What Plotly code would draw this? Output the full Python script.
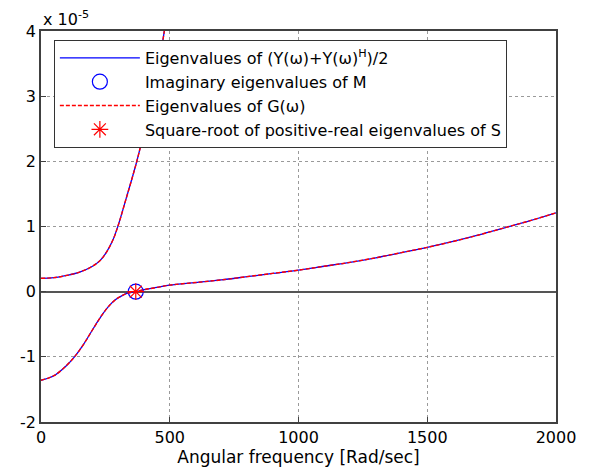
import plotly.graph_objects as go

# Data (eigenvalues in units of 1e-5)
omega_upper = [0, 50, 100, 150, 200, 230, 255, 280, 300, 330, 370, 400, 430, 455, 475, 490]
eig_upper = [0.205, 0.215, 0.25, 0.30, 0.39, 0.48, 0.61, 0.80, 1.02, 1.42, 1.97, 2.45, 2.95, 3.45, 3.9, 4.3]

omega_lower = [0, 50, 100, 130, 160, 190, 215, 240, 265, 290, 315, 340, 368, 400, 450, 500,
               600, 700, 800, 900, 1000, 1100, 1200, 1300, 1400, 1500, 1600, 1700, 1800, 1900, 2000]
eig_lower = [-1.36, -1.29, -1.13, -1.0, -0.84, -0.65, -0.49, -0.34, -0.215, -0.12, -0.06, -0.02, 0.0, 0.03, 0.065, 0.10,
             0.14, 0.18, 0.23, 0.28, 0.33, 0.39, 0.45, 0.52, 0.60, 0.68, 0.77, 0.87, 0.98, 1.09, 1.21]

omega_cross = [368]
eig_cross = [0.0]

x_ticks = [0, 500, 1000, 1500, 2000]
y_ticks = [-2, -1, 0, 1, 2, 3, 4]

BLUE = "#0000FF"
RED = "#FF0000"
FONT = "DejaVu Sans, Liberation Sans, Arial, sans-serif"

fig = go.Figure()

for i, (xs, ys) in enumerate([(omega_upper, eig_upper), (omega_lower, eig_lower)]):
    fig.add_trace(go.Scatter(x=xs, y=ys, mode="lines", line=dict(color=BLUE, width=1.3, shape="spline"),
                             name="Eigenvalues of (Y(ω)+Y(ω)<sup>H</sup>)/2", legendgroup="y",
                             showlegend=(i == 0), legendrank=1))
fig.add_trace(go.Scatter(x=omega_cross, y=eig_cross, mode="markers",
                         marker=dict(symbol="circle-open", color=BLUE, size=15, line=dict(width=1.2)),
                         name="Imaginary eigenvalues of M", legendrank=2))
for i, (xs, ys) in enumerate([(omega_upper, eig_upper), (omega_lower, eig_lower)]):
    fig.add_trace(go.Scatter(x=xs, y=ys, mode="lines", line=dict(color=RED, width=1.4, dash="4px,2px", shape="spline"),
                             name="Eigenvalues of G(ω)", legendgroup="g",
                             showlegend=(i == 0), legendrank=3))
fig.add_trace(go.Scatter(x=omega_cross, y=eig_cross, mode="markers",
                         marker=dict(symbol="asterisk-open", color=RED, size=14, line=dict(width=1.2, color=RED)),
                         name="Square-root of positive-real eigenvalues of S", legendrank=4))

axis_common = dict(showline=True, linecolor="#404040", linewidth=1.5, mirror=True,
                   ticks="inside", ticklen=5, tickcolor="#404040",
                   showgrid=True, gridcolor="#9a9a9a", griddash="dot", gridwidth=1,
                   tickfont=dict(family=FONT, size=16, color="black"))

fig.update_xaxes(range=[0, 2000], tickvals=x_ticks, ticktext=[str(v) for v in x_ticks],
                 title=dict(text="Angular frequency [Rad/sec]", font=dict(family=FONT, size=17, color="black"), standoff=0),
                 zeroline=False, **axis_common)
fig.update_yaxes(range=[-2, 4], tickvals=y_ticks, ticktext=[str(v) for v in y_ticks],
                 zeroline=True, zerolinecolor="#555555", zerolinewidth=2, **axis_common)

fig.add_annotation(text="x 10<sup>-5</sup>", xref="paper", yref="paper", x=0, y=1, xanchor="left", yanchor="bottom",
                   showarrow=False, font=dict(family=FONT, size=16, color="black"), yshift=0)

fig.update_layout(
    width=600, height=467,
    margin=dict(l=28, r=52, t=23, b=53),
    plot_bgcolor="white", paper_bgcolor="white",
    legend=dict(x=0.025, y=0.977, xanchor="left", yanchor="top",
                bordercolor="#333333", borderwidth=1, bgcolor="white",
                font=dict(family=FONT, size=16, color="black"), itemwidth=80,
                tracegroupgap=0),
    showlegend=True,
)

fig.write_html("out.html")
